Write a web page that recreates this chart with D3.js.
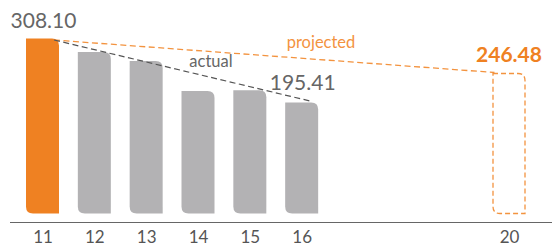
<!DOCTYPE html>
<html>
<head>
<meta charset="utf-8">
<script src="https://cdn.jsdelivr.net/npm/d3@7"></script>
<style>
  body { margin: 0; background: #fff; }
  svg { display: block; font-family: "Lato", "Open Sans", sans-serif; }
</style>
</head>
<body>
<svg width="552" height="246"></svg>
<script>
// data
var years = [11, 12, 13, 14, 15, 16];
var values = [308.10, 284.5, 268.6, 215.5, 217.0, 195.41];
var projYear = 20;
var projValue = 246.48;
var tickYears = [11, 12, 13, 14, 15, 16, 20];

var svg = d3.select('svg');
var width = Number(svg.attr('width'));
var height = Number(svg.attr('height'));

var barW = 33;
var baseY = 213.5;
var axisY = 222.5;
var x = d3.scaleLinear().domain([11, 20]).range([26, 492.5]);
var y = d3.scaleLinear().domain([0, 308.10]).range([baseY, 38.5]);

var orange = '#ef8122';
var lightOrange = '#f3933f';
var grey = '#b3b2b4';
var r = 7;

// bar shape: square top-left, round top-right, square bottom-right, round bottom-left
function barPath(x0, top, w, bottom) {
  var x1 = x0 + w;
  return 'M' + x0 + ',' + top +
    'H' + (x1 - r) +
    'Q' + x1 + ',' + top + ' ' + x1 + ',' + (top + r) +
    'V' + bottom +
    'H' + (x0 + r) +
    'Q' + x0 + ',' + bottom + ' ' + x0 + ',' + (bottom - r) +
    'Z';
}

var data = years.map(function (d, i) { return { year: d, value: values[i] }; });

svg.append('g').selectAll('path')
  .data(data)
  .enter().append('path')
  .attr('d', function (d) { return barPath(x(d.year), y(d.value), barW, baseY); })
  .attr('fill', function (d, i) { return i === 0 ? orange : grey; });

// projected bar outline
svg.append('path')
  .attr('d', barPath(x(projYear) + 0.5, y(projValue), barW - 1, baseY))
  .attr('fill', 'none')
  .attr('stroke', lightOrange)
  .attr('stroke-width', 1.3)
  .attr('stroke-dasharray', '5,3');

// trend lines
var first = data[0];
var last = data[data.length - 1];
svg.append('line')
  .attr('x1', x(first.year) + barW - 5).attr('y1', y(first.value) + 1.5)
  .attr('x2', x(projYear) + 2).attr('y2', y(projValue) - 1)
  .attr('stroke', lightOrange)
  .attr('stroke-width', 1.3)
  .attr('stroke-dasharray', '6,3.5');

svg.append('line')
  .attr('x1', x(first.year) + barW - 5).attr('y1', y(first.value) + 1.5)
  .attr('x2', x(last.year) + barW - 6).attr('y2', y(last.value) - 1)
  .attr('stroke', '#555')
  .attr('stroke-width', 1.2)
  .attr('stroke-dasharray', '6,3.5');

// line labels
svg.append('text')
  .attr('x', 321).attr('y', 48)
  .attr('text-anchor', 'middle')
  .attr('fill', lightOrange)
  .attr('font-size', 16.5)
  .text('projected');

svg.append('text')
  .attr('x', 211).attr('y', 67)
  .attr('text-anchor', 'middle')
  .attr('fill', '#666')
  .attr('font-size', 16.5)
  .text('actual');

// value labels
svg.append('text')
  .attr('x', x(first.year) + barW / 2 + 1).attr('y', y(first.value) - 10.5)
  .attr('text-anchor', 'middle')
  .attr('fill', '#666')
  .attr('font-size', 21)
  .text(d3.format('.2f')(first.value));

svg.append('text')
  .attr('x', x(last.year) + barW / 2 + 1).attr('y', y(last.value) - 12.5)
  .attr('text-anchor', 'middle')
  .attr('fill', '#666')
  .attr('font-size', 21)
  .text(d3.format('.2f')(last.value));

svg.append('text')
  .attr('x', x(projYear) + barW / 2).attr('y', y(projValue) - 11.5)
  .attr('text-anchor', 'middle')
  .attr('fill', orange)
  .attr('font-size', 21)
  .attr('font-weight', 'bold')
  .text(d3.format('.2f')(projValue));

// x axis
var axis = d3.axisBottom(x)
  .tickValues(tickYears)
  .tickSize(0)
  .tickPadding(8)
  .tickFormat(d3.format('d'));

var axisG = svg.append('g')
  .attr('transform', 'translate(' + barW / 2 + ',' + axisY + ')')
  .call(axis);
axisG.select('.domain').remove();
axisG.selectAll('text')
  .attr('fill', '#555')
  .attr('font-size', 17)
  .attr('font-family', 'Lato, sans-serif');

svg.append('line')
  .attr('x1', 10).attr('x2', width)
  .attr('y1', axisY).attr('y2', axisY)
  .attr('stroke', '#666')
  .attr('stroke-width', 1);
</script>
</body>
</html>
